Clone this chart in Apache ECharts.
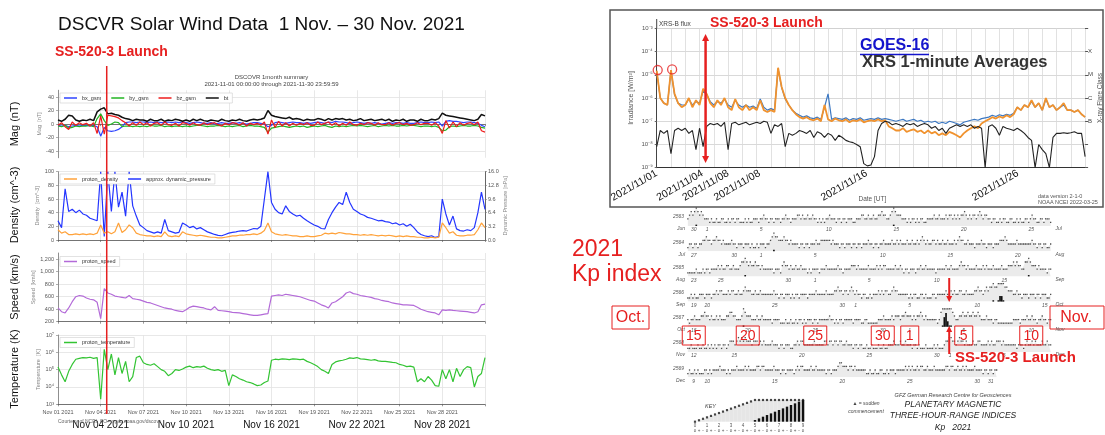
<!DOCTYPE html>
<html>
<head>
<meta charset="utf-8">
<script src="https://cdn.jsdelivr.net/npm/echarts@6/dist/echarts.min.js"></script>
<style>
html,body{margin:0;padding:0;background:#fff;}
#chart{width:1105px;height:435px;}
</style>
</head>
<body>
<div id="chart"></div>
<script>
const FONT = '"Liberation Sans", Arial, Helvetica, sans-serif';
const font = (size, weight, style) => `${style || 'normal'} ${weight || 'normal'} ${size}px ${FONT}`;
const RED = '#e62020';

// ---------- DSCOVR 1-month summary, Nov 2021 (6-hour samples, day 0 = Nov 01 00:00 UT) ----------
const dayStep = 0.25;
const btTotal = [6,4,7,13, 12,6,4,6, 5,7,5,18, 22,24,15,16, 14,13,10,8, 7,5,7,6, 6,4,7,5, 5,7,4,6, 5,7,6,4, 6,4,7,5,
  7,5,4,6, 5,4,7,5, 4,6,5,7, 5,4,6,7, 6,7,9,20, 13,11,10,9, 8,10,7,8, 7,5,7,6, 6,8,7,5, 8,6,8,7,
  8,6,7,5, 6,8,5,6, 7,5,6,7, 5,7,4,6, 5,7,4,6, 6,4,7,5, 5,7,6,8, 16,13,12,11, 10,9,8,7, 6,5,7,14, 12];
const bxGsm = [-2,-3,-2,-4, -3,-2,-3,-2, -2,-3,-2,-4, -18,-5,-10,-11, -10,-8,-4,2, 3,3,2,3, 3,2,3,2, 3,2,2,3, 2,3,2,3, 2,1,2,3,
  2,1,1,2, 0,1,2,1, 1,2,1,2, 1,0,1,2, 2,1,0,-4, -2,2,3,2, 1,2,3,2, 2,1,2,1, 2,3,2,1, 3,2,4,3,
  3,2,1,2, 3,2,1,2, 1,2,1,0, 1,2,1,2, 2,1,2,1, 1,2,3,2, 2,3,2,3, -3,4,5,4, 4,3,2,3, 3,2,1,-2, -4];
const byGsm = [-3,-4,-2,-6, -5,-3,-4,-3, -3,-2,-4,8, 15,5,-2,0, 3,2,-4,-3, -3,-4,-3,-4, -3,-4,-2,-3, -3,-2,-4,-3, -4,-3,-3,-4, -3,-4,-3,-2,
  -2,-3,-4,-3, -3,-2,-3,-4, -3,-4,-3,-2, -4,-3,-2,-3, -3,-4,-5,-12, -6,-5,-4,-3, -4,-5,-4,-3, -4,-3,-5,-4, -3,-4,-3,-2, -4,-5,-3,-4,
  -3,-4,-3,-2, -3,-2,-3,-4, -3,-2,-4,-3, -2,-3,-2,-3, -3,-2,-3,-2, -2,-3,-4,-3, -3,-4,-3,-5, -10,-9,-4,-3, -4,-3,-2,-3, -3,-2,-3,-5, -6];
const bzGsm = [-2,2,-4,-8, 3,-2,2,-1, 1,-3,2,-14, 12,-15,13,12, 11,9,5,2, -3,2,-2,3, -1,2,-3,1, 2,-2,3,-1, -2,1,-3,2, 1,-2,2,-1,
  -2,2,-1,1, 2,-1,-3,1, -1,2,1,-2, 2,-3,1,-1, 1,-2,3,-15, 6,-5,4,-3, 2,-3,1,-2, 1,-1,2,-2, -2,3,-1,1, 3,-2,2,-3,
  1,-2,3,-1, -2,1,-1,2, 1,-2,2,-1, -1,2,-2,1, 2,-1,1,-2, -1,2,-1,1, 1,-2,2,-3, -14,5,-6,3, -4,2,-2,1, 2,-1,3,-10, -12];
const protonDensity = [15,10,12,8, 8,9,8,9, 8,9,8,10, 22,10,12,9, 12,25,11,15, 22,18,10,8, 7,6,6,5, 6,5,12,6, 5,6,5,12, 9,8,7,6,
  7,6,5,4, 4,3,3,4, 5,6,6,7, 7,8,8,9, 8,10,14,25, 12,9,8,7, 8,7,6,6, 5,5,6,5, 5,6,7,10, 9,10,9,11,
  10,9,9,8, 8,7,8,7, 8,7,6,7, 6,7,6,5, 6,5,6,5, 5,4,4,3, 3,4,3,4, 25,18,10,12, 7,6,6,7, 7,8,15,25, 18];
const dynPressure = [4.5,2.9,12.0,6.7, 7.2,6.4,7.0,6.1, 5.8,5.1,4.8,4.5, 16.0,0.8,16.0,6.7, 16.0,7.7,11.2,5.6, 16.0,8.0,5.6,3.5,
  2.9,2.2,1.9,1.6, 1.9,1.6,4.8,2.2, 1.9,1.6,1.8,4.0, 3.5,2.9,3.2,2.6, 2.9,2.4,1.9,1.6, 1.3,1.1,1.0,1.3,
  1.6,1.8,1.9,2.1, 2.2,2.1,2.4,2.7, 2.6,3.2,9.6,16.0, 8.8,7.2,6.4,6.1, 8.0,6.7,6.1,5.6, 5.8,5.1,4.5,4.0,
  3.5,3.2,2.7,2.6, 4.8,6.4,7.7,8.8, 8.3,11.2,8.8,7.2, 6.7,6.1,5.8,5.3, 5.1,4.8,4.5,4.6, 4.3,4.2,3.8,4.0,
  3.5,3.8,3.2,3.7, 2.9,1.9,1.3,1.0, 0.8,1.0,0.6,0.8, 9.6,6.1,3.5,5.6, 2.6,2.2,2.1,2.4, 2.2,2.9,6.4,11.2, 7.2];
const protonSpeed = [420,360,340,420, 520,600,620,610, 580,560,550,510, 250,730,660,640, 610,600,590,580, 620,570,560,550,
  530,510,500,480, 460,440,420,410, 400,380,370,360, 390,430,450,440, 430,420,400,390, 440,380,375,370,
  360,350,345,340, 330,320,310,300, 300,310,320,330, 610,620,630,620, 640,630,620,610, 600,580,560,540,
  530,500,470,450, 420,500,520,560, 600,660,680,650, 640,620,610,600, 590,570,560,540, 530,520,500,490,
  480,470,470,465, 460,430,400,380, 360,350,340,310, 390,380,390,380, 375,370,365,360, 350,340,360,470, 480];
const protonTemp = [140000,50000,20000,80000, 200000,400000,450000,500000, 480000,520000,450000,500000,
  2000,1500000,100000,800000, 50000,500000,60000,300000, 20000,40000,500000,600000,
  250000,200000,180000,220000, 150000,100000,80000,45000, 60000,100000,90000,110000,
  140000,160000,130000,150000, 140000,160000,120000,100000, 90000,100000,80000,90000,
  12000,50000,40000,30000, 25000,20000,18000,15000, 12000,13000,18000,22000,
  350000,400000,380000,420000, 400000,380000,420000,400000, 380000,400000,300000,250000,
  200000,150000,100000,80000, 60000,200000,280000,320000, 350000,400000,480000,450000,
  500000,420000,400000,380000, 350000,380000,320000,300000, 300000,280000,260000,250000,
  200000,180000,150000,160000, 140000,20000,30000,20000, 40000,25000,12000,11000,
  100000,30000,100000,20000, 120000,40000,100000,150000, 130000,10000,40000,60000, 500000];
const dscovrDateTicks = [0,3,6,9,12,15,18,21,24,27];
const dscovrBigTicks = [3,9,15,21,27];
const launchDay = 3.423; // 2021-11-04 10:09 UT

// ---------- GOES-16 XRS 1-minute averages (6-hour samples, W/m^2) ----------
const xrsBPrimary = [1.5e-5,1e-6,6e-7,5e-7, 1.6e-5,1.5e-6,6e-7,4e-7, 5e-7,1e-6,4e-7,8e-7, 5e-7,2.5e-6,1.5e-6,6e-7,
  4e-7,8e-7,5e-7,1e-6, 4e-7,3e-7,9e-7,4e-7, 3e-7,5e-7,3e-7,4e-7, 3e-7,8e-7,3e-7,2.5e-7,
  3e-7,2.5e-7,2e-5,3e-6, 1e-6,5e-7,3e-7,2e-7, 1.5e-7,1.3e-7,1.5e-7,1.2e-7, 1.1e-7,1.3e-7,1e-7,5e-7,
  1.2e-7,1e-7,1.3e-7,1.1e-7, 1e-7,1.2e-7,9e-8,1.1e-7, 1e-7,1.2e-7,9e-8,1e-7, 1.1e-7,1e-7,1.2e-7,1e-7,
  1.1e-7,6e-8,5e-8,4e-8, 4e-8,5e-8,3.5e-8,4e-8, 4.5e-8,3.5e-8,4e-8,3e-8, 4e-8,3e-8,3.5e-8,2.5e-8,
  3e-8,2.5e-8,3.5e-8,3e-8, 2.5e-8,2e-8,3e-8,4e-8, 5e-8,6e-8,5e-8,8e-8, 1e-7,1.2e-7,1.5e-7,1.3e-7,
  1.6e-7,1.4e-7,1.8e-7,1.5e-7, 2e-7,4e-7,3e-7,5e-7, 4e-7,8e-7,4e-7,6e-7, 3e-7,1e-6,4e-7,5e-7,
  3e-7,4e-7,6e-7,3e-7, 3e-7,2.5e-7,3e-7,2e-7, 1.5e-7];
const xrsBSecondary = [1.4e-5,1e-6,6e-7,5e-7, 1.5e-5,1.4e-6,6e-7,5e-7, 5e-7,9e-7,5e-7,7e-7, 6e-7,2e-6,1.4e-6,7e-7,
  5e-7,7e-7,6e-7,9e-7, 5e-7,4e-7,8e-7,5e-7, 4e-7,5e-7,4e-7,4.5e-7, 3.5e-7,9e-7,4e-7,3e-7,
  3.5e-7,3e-7,1.8e-5,2.8e-6, 9e-7,5e-7,3e-7,2.2e-7, 1.8e-7,1.5e-7,1.7e-7,1.4e-7, 1.3e-7,1.5e-7,1.2e-7,4e-7,
  1.5e-6,1.2e-7,1.4e-7,1.3e-7, 1.2e-7,1.4e-7,1.1e-7,1.3e-7, 1.2e-7,1.4e-7,1.1e-7,1.2e-7, 1.3e-7,1.2e-7,1.4e-7,1.2e-7,
  1.3e-7,1.2e-7,1.1e-7,1e-7, 1.1e-7,1.2e-7,1e-7,1.1e-7, 1.2e-7,1e-7,1.1e-7,9e-8, 1e-7,9e-8,1e-7,8e-8,
  9e-8,8e-8,1e-7,9e-8, 8e-8,7e-8,9e-8,1e-7, 1.1e-7,1.2e-7,1.1e-7,1.3e-7, 1.4e-7,1.5e-7,1.8e-7,1.6e-7,
  1.9e-7,1.7e-7,2e-7,1.8e-7, 2.2e-7,4e-7,3e-7,5e-7, 4e-7,7e-7,4e-7,6e-7, 3e-7,9e-7,4e-7,5e-7,
  3e-7,4e-7,5e-7,3e-7, 3e-7,2.5e-7,3e-7,2e-7, 1.5e-7];
const xrsA = [8e-9,4e-8,3e-8,4e-8, 4e-9,4e-8,5e-8,4e-8, 5e-8,3e-8,4e-8,6e-9, 5e-8,8e-9,6e-8,8e-8,
  7e-8,8e-8,6e-8,9e-8, 6e-9,8e-8,9e-8,7e-8, 8e-8,9e-8,7e-8,8e-8, 9e-8,8e-8,1e-7,9e-8,
  3e-8,7e-8,6e-8,8e-8, 8e-9,3e-8,2.5e-8,3e-8, 4e-8,3.5e-8,3e-8,4e-8, 2e-8,3.5e-8,3e-8,2e-8,
  3e-8,2.5e-8,1.5e-8,2.5e-8, 2e-8,1.5e-8,1.3e-8,1.2e-8, 1e-8,8e-9,1.5e-9,1.2e-9, 1.3e-9,3e-9,4e-8,8e-8,
  1e-7,9e-8,7e-8,8e-8, 7e-8,6e-8,8e-8,7e-8, 8e-8,6e-8,7e-8,8e-8, 7e-8,5e-8,6e-8,4e-8,
  5e-8,3e-8,5e-8,6e-8, 7e-8,6e-8,7e-8,6e-8, 7e-8,5e-8,6e-8,5e-8, 1e-9,6e-8,7e-8,5e-8,
  2.5e-8,6e-8,5e-8,4.5e-8, 4e-8,5e-8,4e-8,3e-8, 2e-8,1.5e-8,1e-9,1e-8, 6e-9,4e-9,1e-9,2e-8,
  3e-8,3e-8,3.2e-8,3e-8, 3.2e-8,3.5e-8,3e-8,3e-8, 3e-9];
const flarePeaks = [[0.07, 1.6e-5], [1.08, 1.7e-5]];
const goesDateTicks = [0, 3.2, 5.0, 7.2, 14.7, 25.3];
const goesDateLabels = ['2021/11/01', '2021/11/04', '2021/11/08', '2021/11/08', '2021/11/16', '2021/11/26'];
const flareClassByExp = { '-4': 'X', '-5': 'M', '-6': 'C', '-7': 'B' };

// ---------- Kp 2021, Bartels rotations 2563-2569 (eight 3-hour values per day) ----------
const kp2563 = [2,3,4,3,4,5,4,3, 4,3,2,2,2,1,2,1, 1,2,1,1,2,2,1,1,
  2,1,2,2,1,2,2,1, 1,1,2,1,2,1,1,2, 2,2,1,2,2,3,2,2,
  1,2,2,1,2,2,2,1, 2,2,3,2,2,1,2,2, 2,3,3,2,3,2,2,3,
  2,2,3,2,2,1,2,1, 2,1,2,2,3,2,2,2, 1,2,2,1,2,2,1,2,
  2,2,1,1,2,2,2,3, 3,2,2,3,2,2,3,2, 2,3,3,4,3,3,2,2,
  3,4,5,4,3,3,3,2, 2,2,1,2,1,2,2,1, 2,1,2,2,1,1,2,2,
  2,2,3,2,2,3,2,2, 2,3,2,3,3,2,3,2, 3,2,3,3,4,3,2,3,
  2,3,3,2,3,4,3,2, 3,3,2,2,1,2,2,1, 1,2,1,2,2,1,1,2,
  2,1,1,2,1,2,1,1, 2,2,1,2,3,2,2,1, 1,2,2,1,2,2,2,1];
const kp2564 = [1,2,2,1,2,2,1,2, 2,3,3,4,3,3,2,3, 3,4,3,3,2,3,2,2,
  2,2,3,2,2,1,2,2, 2,1,2,2,2,1,2,1, 1,2,1,2,2,2,1,2,
  2,3,4,5,4,4,3,3, 3,4,3,3,2,3,2,2, 2,2,1,2,2,1,2,2,
  1,2,2,2,3,2,2,3, 3,3,3,3,3,2,3,2, 2,2,1,2,2,1,2,2,
  2,1,2,2,1,2,2,1, 2,2,2,3,2,2,1,2, 2,1,2,2,3,2,2,2,
  2,3,2,2,3,2,3,2, 2,2,3,2,2,3,2,2, 3,2,3,4,3,2,3,2,
  2,3,3,2,3,2,2,3, 2,2,3,2,2,2,3,2, 3,4,3,3,2,2,3,2,
  2,2,1,2,2,2,3,2, 2,1,2,2,2,1,2,2, 2,3,3,3,4,3,2,2,
  2,2,2,3,2,2,2,2, 2,2,2,2,3,2,2,1, 2,2,1,2,2,1,1,2];
const kp2565 = [1,1,1,1,1,2,1,1, 1,2,1,2,2,1,2,2, 2,2,3,2,3,2,2,3,
  3,2,2,3,2,2,2,3, 4,4,5,4,3,4,3,3, 4,3,3,2,3,2,2,2,
  2,2,2,1,2,2,2,1, 3,4,3,3,2,3,2,2, 3,2,2,3,2,2,2,1,
  2,1,2,2,2,2,1,2, 2,2,3,2,2,2,2,2, 2,3,2,2,1,2,2,2,
  2,3,3,3,2,3,2,2, 2,2,2,3,2,2,2,2, 3,2,3,2,3,3,2,2,
  2,2,2,3,2,2,3,2, 1,2,2,1,2,2,2,1, 2,2,3,2,2,3,2,2,
  2,2,2,1,2,2,2,2, 2,3,2,2,3,2,2,2, 2,3,4,3,3,2,3,2,
  2,2,2,3,2,2,2,3, 2,3,2,2,2,3,2,2, 2,2,3,2,2,2,3,3,
  3,4,3,4,3,3,2,2, 4,4,5,4,3,3,3,2, 3,2,2,2,2,1,2,2];
const kp2566 = [1,1,2,1,2,1,1,2, 2,2,1,2,2,2,1,2, 2,3,2,3,3,2,2,2,
  3,2,3,3,2,2,3,2, 2,3,4,3,3,3,2,2, 3,2,2,3,2,2,2,2,
  2,2,2,3,2,2,1,2, 2,1,2,2,2,1,2,1, 2,2,1,2,2,2,2,1,
  2,2,2,2,3,2,2,2, 2,2,3,2,2,2,2,3, 3,4,3,3,2,3,3,2,
  3,4,3,2,3,2,2,1, 2,2,1,1,2,1,2,2, 2,3,2,3,2,3,3,2,
  2,3,4,3,3,2,2,2, 2,2,2,1,2,1,2,2, 1,1,2,2,1,2,1,1,
  1,2,2,1,2,2,2,2, 2,3,2,2,3,2,3,2, 2,3,3,2,2,3,2,2,
  2,2,3,3,4,3,3,2, 3,4,3,4,4,5,4,4, 5,6,6,5,4,4,3,3,
  3,2,2,3,2,2,1,2, 2,2,1,2,2,2,1,2, 2,1,2,2,2,1,1,2];
const kp2567 = [2,1,2,2,3,2,2,2, 3,3,4,3,3,2,3,2, 2,3,2,3,2,2,2,3,
  3,4,4,3,3,2,2,2, 3,5,4,3,3,3,2,2, 2,3,2,2,3,2,2,2,
  2,2,1,2,2,2,2,1, 1,1,2,1,1,2,1,1, 2,1,2,2,1,2,1,2,
  2,2,1,2,2,1,2,2, 2,2,2,2,3,2,2,1, 2,1,2,2,1,2,2,2,
  2,2,1,2,2,2,2,1, 1,2,2,1,1,1,1,1, 1,2,2,2,3,2,2,2,
  2,3,2,3,3,3,2,3, 3,4,3,3,3,2,3,2, 3,3,4,3,2,3,2,2,
  2,2,2,2,1,2,4,5, 7,8,6,5,5,4,3,2, 2,3,3,4,3,3,4,3,
  3,4,3,3,4,3,2,2, 2,3,2,2,2,1,2,2, 1,1,1,1,1,1,1,1,
  1,2,2,2,2,1,2,2, 2,3,2,2,3,2,2,1, 2,2,3,2,2,1,2,2];
const kp2568 = [1,1,2,1,1,1,2,1, 1,2,1,1,2,1,2,1, 2,1,2,2,1,2,2,1,
  2,3,3,3,2,3,4,3, 4,3,4,3,3,3,2,3, 3,3,2,3,2,3,2,2,
  2,2,3,2,2,2,1,2, 2,1,2,2,2,1,1,2, 2,3,2,3,3,2,2,2,
  2,2,2,3,2,2,2,2, 2,3,3,2,3,3,2,3, 3,2,3,3,2,2,3,2,
  2,2,1,2,2,1,2,2, 1,1,2,1,1,2,1,1, 1,2,1,1,2,1,1,2,
  2,2,3,2,2,2,3,2, 2,3,2,2,2,1,2,2, 1,2,1,1,1,2,1,1,
  1,1,2,1,2,1,1,1, 2,3,3,4,4,3,3,2, 3,4,3,3,2,3,2,2,
  2,3,2,2,3,3,2,2, 2,2,3,2,3,2,2,3, 3,3,2,3,2,2,2,2,
  2,2,2,1,2,2,2,1, 2,3,2,2,3,2,3,2, 2,2,3,2,2,3,2,2];
const kp2569 = [1,2,1,1,2,1,2,1, 1,1,2,2,1,2,1,2, 2,2,2,3,2,2,2,1,
  2,1,2,2,2,3,2,2, 2,2,3,2,3,2,2,2, 2,3,3,2,3,3,2,2,
  2,2,2,3,2,2,2,1, 2,2,1,2,2,2,2,1, 2,3,2,3,3,2,2,2,
  2,3,2,2,3,2,2,2, 2,2,1,2,2,1,2,2, 2,3,4,4,3,3,3,2,
  3,3,2,3,2,2,2,2, 2,2,1,1,2,1,1,2, 1,1,2,2,1,1,2,1,
  2,2,2,1,2,2,2,2, 2,3,2,3,2,3,2,2, 3,2,3,3,2,2,3,2,
  2,2,3,2,2,2,2,2, 2,3,3,2,3,3,2,2, 3,2,2,3,2,3,2,2,
  2,2,3,2,2,2,2,1, 2,2,1,2,2,1,2,2];
const kpRows = [
  { rotation: 2563, start: [2021, 5, 30], values: kp2563 },
  { rotation: 2564, start: [2021, 6, 27], values: kp2564 },
  { rotation: 2565, start: [2021, 7, 23], values: kp2565 },
  { rotation: 2566, start: [2021, 8, 19], values: kp2566 },
  { rotation: 2567, start: [2021, 9, 16], values: kp2567 },
  { rotation: 2568, start: [2021, 10, 12], values: kp2568 },
  { rotation: 2569, start: [2021, 11, 9], values: kp2569 }
];
const kpKey = [0,0.33,0.67,1,1.33,1.67,2,2.33,2.67,3,3.33,3.67,4,4.33,4.67,5,5.33,5.67,6,6.33,6.67,7,7.33,7.67,8,8.33,8.67,9];
// day index (in rotation 2567) marked by the boxed numbers
const kpBoxLabels = [['15', 0], ['20', 4], ['25', 9], ['30', 14], ['1', 16], ['5', 20], ['10', 25]];
const launchRowIndex = 4;
const MONTHS = ['Jan','Feb','Mar','Apr','May','Jun','Jul','Aug','Sep','Oct','Nov','Dec'];

// ---------- helpers ----------
const asDays = arr => arr.map((v, i) => [i * dayStep, v]);
const SUP = { '-': '⁻', '0': '⁰', '1': '¹', '2': '²', '3': '³', '4': '⁴', '5': '⁵', '6': '⁶', '7': '⁷', '8': '⁸', '9': '⁹' };
const pow10Label = v => '10' + String(Math.round(Math.log10(v))).split('').map(c => SUP[c]).join('');
const pad2 = n => (n < 10 ? '0' : '') + n;
const novLabel = d => 'Nov ' + pad2(Math.round(d) + 1) + ' 2021';

const gridLine = { show: true, lineStyle: { color: '#e2e2e2', width: 0.8 } };
const smallLabel = { fontSize: 5.5, color: '#555', fontFamily: FONT };

// ---------- layout ----------
const dsLeft = 58, dsWidth = 427;
const dsPanels = [
  { top: 90.25, height: 67.5 },
  { top: 171.7, height: 68.3 },
  { top: 253.0, height: 68.7 },
  { top: 335.0, height: 69.3 }
];
const goesGrid = { left: 656.7, top: 28.3, width: 431.3, height: 139.4 };
const rowLeft = 687, rowDayW = 13.5, rowH = 18, rowBase0 = 226, rowPitch = 25.2;

const grids = [];
const xAxes = [];
const yAxes = [];
const series = [];

dsPanels.forEach((p, i) => {
  grids.push({ left: dsLeft, top: p.top, width: dsWidth, height: p.height });
  xAxes.push({
    gridIndex: i, type: 'value', min: 0, max: 30, interval: 3, position: 'bottom',
    axisLine: { lineStyle: { color: '#555', width: 0.8 } },
    axisTick: { length: 2, lineStyle: { color: '#555', width: 0.6 } },
    axisLabel: i === 3 ? Object.assign({ customValues: dscovrDateTicks, formatter: novLabel, margin: 5 }, smallLabel) : { show: false },
    splitLine: gridLine
  });
});
// larger date row under the bottom panel
xAxes.push({
  gridIndex: 3, type: 'value', min: 0, max: 30, position: 'bottom',
  axisLine: { show: false }, axisTick: { show: false }, splitLine: { show: false },
  axisLabel: { customValues: dscovrBigTicks, formatter: novLabel, margin: 16, fontSize: 10, color: '#111', fontFamily: FONT }
});

const yName = (name, gap) => ({ name, nameLocation: 'middle', nameGap: gap || 16, nameTextStyle: { fontSize: 5.5, color: '#888', fontFamily: FONT } });
const yBase = { axisLine: { show: true, lineStyle: { color: '#777', width: 0.8 } }, axisTick: { show: true, length: 2, lineStyle: { color: '#777', width: 0.6 } } };

// 0: magnetic field
yAxes.push(Object.assign({}, yBase, yName('Mag  [nT]', 16), {
  gridIndex: 0, type: 'value', min: -50, max: 50,
  axisTick: { show: true, length: 2, customValues: [-40, -20, 0, 20, 40], lineStyle: { color: '#777', width: 0.6 } },
  axisLabel: Object.assign({ customValues: [-40, -20, 0, 20, 40], margin: 4 }, smallLabel),
  splitLine: gridLine
}));
// 1: density (left) ; 2: dynamic pressure (right)
yAxes.push(Object.assign({}, yBase, yName('Density  [cm^-3]', 16), {
  gridIndex: 1, type: 'value', min: 0, max: 100, interval: 20,
  axisLabel: Object.assign({ margin: 4 }, smallLabel), splitLine: gridLine
}));
yAxes.push(Object.assign({}, yBase, yName('Dynamic Pressure [nPa]', 14), {
  gridIndex: 1, type: 'value', min: 0, max: 16, interval: 3.2, position: 'right',
  axisLine: { show: true, lineStyle: { color: '#444', width: 0.8 } },
  axisLabel: Object.assign({ margin: 3, formatter: v => v.toFixed(1) }, smallLabel), splitLine: { show: false }
}));
// 3: speed
yAxes.push(Object.assign({}, yBase, yName('Speed  [km/s]', 19), {
  gridIndex: 2, type: 'value', min: 200, max: 1300,
  axisTick: { show: true, length: 2, customValues: [200, 400, 600, 800, 1000, 1200], lineStyle: { color: '#777', width: 0.6 } },
  axisLabel: Object.assign({ customValues: [200, 400, 600, 800, 1000, 1200], margin: 4 }, smallLabel),
  splitLine: gridLine
}));
// 4: temperature (log)
yAxes.push(Object.assign({}, yBase, yName('Temperature  [K]', 17), {
  gridIndex: 3, type: 'log', logBase: 10, min: 1e3, max: 1e7,
  axisLabel: Object.assign({ margin: 4, formatter: pow10Label }, smallLabel),
  splitLine: gridLine, minorTick: { show: false }
}));

// ----- GOES panel -----
grids.push(goesGrid);
xAxes.push({
  gridIndex: 4, type: 'value', min: 0, max: 30, interval: 1, position: 'bottom',
  axisLine: { lineStyle: { color: '#333', width: 1 } },
  axisTick: { show: false },
  axisLabel: {
    customValues: goesDateTicks, rotate: 30, margin: 5, fontSize: 10.5, color: '#111', fontFamily: FONT,
    formatter: v => { const k = goesDateTicks.findIndex(t => Math.abs(t - v) < 1e-6); return k >= 0 ? goesDateLabels[k] : ''; }
  },
  splitLine: { show: true, lineStyle: { color: '#d9d9d9', width: 0.8 } }
});
yAxes.push({
  gridIndex: 4, type: 'log', logBase: 10, min: 1e-9, max: 1e-3,
  axisLine: { show: true, lineStyle: { color: '#444', width: 1 } },
  axisTick: { show: true, length: 2, lineStyle: { color: '#666' } },
  axisLabel: { formatter: pow10Label, fontSize: 6, color: '#555', margin: 4, fontFamily: FONT },
  splitLine: { show: true, lineStyle: { color: '#cfcfcf', width: 0.8 } },
  name: 'Irradiance [W/m²]', nameLocation: 'middle', nameGap: 22,
  nameTextStyle: { fontSize: 7, color: '#555', fontFamily: FONT }
});
yAxes.push({
  gridIndex: 4, type: 'log', logBase: 10, min: 1e-9, max: 1e-3, position: 'right',
  axisLine: { show: false },
  axisTick: { show: true, length: 3, inside: false, lineStyle: { color: '#555' } },
  axisLabel: { formatter: v => flareClassByExp[String(Math.round(Math.log10(v)))] || '', fontSize: 6, color: '#444', margin: 3, fontFamily: FONT },
  splitLine: { show: false },
  name: 'X-ray Flare Class', nameLocation: 'middle', nameGap: 11,
  nameTextStyle: { fontSize: 6.5, color: '#555', fontFamily: FONT }
});

// ----- Kp rows -----
const kpGridStart = grids.length;
const kpXAxisStart = xAxes.length;
const kpYAxisStart = yAxes.length;
kpRows.forEach((row, r) => {
  const base = rowBase0 + r * rowPitch;
  grids.push({ left: rowLeft, top: base - rowH, width: rowDayW * 27, height: rowH });
  const nDays = row.values.length / 8;
  const startMs = Date.UTC(row.start[0], row.start[1], row.start[2]);
  const dom = j => new Date(startMs + j * 86400000).getUTCDate();
  const ticks = [];
  for (let j = 0; j < nDays; j++) {
    const d = dom(j);
    if (j === 0 || [1, 5, 10, 15, 20, 25, 30].includes(d) || (r === kpRows.length - 1 && j === nDays - 1)) ticks.push(j + 0.5);
  }
  xAxes.push({
    gridIndex: kpGridStart + r, type: 'value', min: 0, max: 27,
    axisLine: { show: false }, axisTick: { show: false }, splitLine: { show: false },
    axisLabel: { customValues: ticks, formatter: v => String(dom(Math.floor(v))), fontSize: 5, fontStyle: 'italic', color: '#555', margin: 1.5, fontFamily: FONT }
  });
  yAxes.push({ gridIndex: kpGridStart + r, type: 'value', min: 0, max: 5, show: false });
  const dots = [], bars = [];
  row.values.forEach((kp, i) => {
    const t = (i + 0.5) / 8;
    dots.push([t, Math.min(kp, 5)]);
    bars.push([t, kp >= 5 ? (kp - 4.67) / 4.33 * 5 : '-']);
  });
  const ax = { xAxisIndex: kpXAxisStart + r, yAxisIndex: kpYAxisStart + r };
  series.push(Object.assign({ type: 'line', data: dots, showSymbol: false, silent: true, lineStyle: { width: 0 }, areaStyle: { color: '#ebebeb', opacity: 1 }, z: 1 }, ax));
  series.push(Object.assign({ type: 'bar', data: bars, barWidth: 1.7, itemStyle: { color: '#111' }, silent: true, z: 2 }, ax));
  series.push(Object.assign({ type: 'scatter', data: dots, symbol: 'rect', symbolSize: 1.3, itemStyle: { color: '#222' }, silent: true, z: 3 }, ax));
});

// ----- Kp key -----
const keyGridIndex = grids.length;
grids.push({ left: 693, top: 400, width: 112, height: 21.7 });
const keyX = xAxes.length, keyY = yAxes.length;
xAxes.push({
  gridIndex: keyGridIndex, type: 'category', data: kpKey.map((v, i) => i),
  axisLine: { show: false }, axisTick: { show: false }, splitLine: { show: false },
  axisLabel: {
    interval: 0, margin: 2, fontSize: 4.5, color: '#555', lineHeight: 4.5, fontFamily: FONT,
    formatter: v => { const i = +v; return (i % 3 === 0 ? String(i / 3) : ' ') + '\n' + ['o', '+', '-'][i % 3]; }
  }
});
yAxes.push({ gridIndex: keyGridIndex, type: 'value', min: 0, max: 5, show: false });
series.push({ type: 'bar', xAxisIndex: keyX, yAxisIndex: keyY, data: kpKey.map(v => Math.min(v, 5)), barWidth: 4, itemStyle: { color: '#e6e6e6' }, barGap: '-100%', silent: true, z: 1 });
series.push({ type: 'bar', xAxisIndex: keyX, yAxisIndex: keyY, data: kpKey.map(v => v >= 5 ? (v - 4.67) / 4.33 * 5 : '-'), barWidth: 2.4, itemStyle: { color: '#111' }, barGap: '-100%', silent: true, z: 2 });
series.push({ type: 'scatter', xAxisIndex: keyX, yAxisIndex: keyY, data: kpKey.map(v => Math.min(v, 5)), symbol: 'rect', symbolSize: 2.2, itemStyle: { color: '#1a1a1a' }, silent: true, z: 3 });

// ----- DSCOVR series -----
const ln = (name, data, color, xi, yi, w) => ({
  name, type: 'line', data: asDays(data), xAxisIndex: xi, yAxisIndex: yi, showSymbol: false, silent: true,
  lineStyle: { color, width: w || 1 }, itemStyle: { color }
});
series.push(ln('bx_gsm', bxGsm, '#2f44ff', 0, 0, 1.2));
series.push(ln('by_gsm', byGsm, '#22b522', 0, 0, 1.2));
series.push(ln('bt', btTotal, '#111111', 0, 0, 1.5));
series.push(ln('bz_gsm', bzGsm, '#ee1c1c', 0, 0, 1.2));
series.push(ln('approx. dynamic_pressure', dynPressure, '#2436ff', 1, 2, 1.2));
series.push(ln('proton_density', protonDensity, '#ffa23a', 1, 1, 1.2));
series.push(ln('proton_speed', protonSpeed, '#b36ad8', 2, 3, 1.2));
series.push(ln('proton_temperature', protonTemp, '#33c433', 3, 4, 1.2));

// ----- GOES series -----
const goesX = 5, goesY = 5;
series.push(ln('xrsb_secondary', xrsBSecondary, '#3c78c2', goesX, goesY, 1.2));
series.push(ln('xrsb_primary', xrsBPrimary, '#f0922e', goesX, goesY, 1.8));
series.push(ln('xrsa', xrsA, '#222222', goesX, goesY, 1.1));
series.push({
  type: 'scatter', xAxisIndex: goesX, yAxisIndex: goesY, data: flarePeaks, symbol: 'circle', symbolSize: 9, silent: true, z: 5,
  itemStyle: { color: 'rgba(0,0,0,0)', borderColor: RED, borderWidth: 1.3 }
});

const legendBase = {
  orient: 'horizontal', icon: 'rect', itemWidth: 13, itemHeight: 1.5, itemGap: 10, padding: [2, 4],
  backgroundColor: '#fff', borderColor: '#cfcfcf', borderWidth: 0.6, selectedMode: false,
  textStyle: { fontSize: 5.5, color: '#333', fontFamily: FONT }
};
const legends = [
  Object.assign({}, legendBase, { data: ['bx_gsm', 'by_gsm', 'bz_gsm', 'bt'], left: 60, top: 93 }),
  Object.assign({}, legendBase, { data: ['proton_density', 'approx. dynamic_pressure'], left: 60, top: 174 }),
  Object.assign({}, legendBase, { data: ['proton_speed'], left: 60, top: 256.5 }),
  Object.assign({}, legendBase, { data: ['proton_temperature'], left: 60, top: 337.5 })
];

const chart = echarts.init(document.getElementById('chart'), null, { renderer: 'canvas' });
chart.setOption({
  animation: false,
  backgroundColor: '#fff',
  grid: grids, xAxis: xAxes, yAxis: yAxes, series, legend: legends
});

// ---------- annotations ----------
function txt(x, y, s, o) {
  o = o || {};
  const align = o.align || 'left', va = o.va || 'middle';
  return {
    type: 'text', x, y, rotation: o.rot || 0, silent: true, z: 100,
    style: { text: s, x: 0, y: 0, font: o.font, fill: o.fill || '#111', align, verticalAlign: va, textAlign: align, textVerticalAlign: va }
  };
}
const line = (x1, y1, x2, y2, color, w) => ({ type: 'line', silent: true, z: 100, shape: { x1, y1, x2, y2 }, style: { stroke: color, lineWidth: w || 1 } });
const rect = (x, y, w, h, color, lw) => ({ type: 'rect', silent: true, z: 100, shape: { x, y, width: w, height: h }, style: { fill: 'none', stroke: color, lineWidth: lw || 1 } });
const tri = (pts, color) => ({ type: 'polygon', silent: true, z: 100, shape: { points: pts }, style: { fill: color } });

const els = [];
// DSCOVR
els.push(txt(58, 24.5, 'DSCVR Solar Wind Data  1 Nov. – 30 Nov. 2021', { font: font(19) }));
els.push(txt(55, 52.5, 'SS-520-3 Launch', { font: font(14, 'bold'), fill: RED }));
els.push(txt(271.5, 77.7, 'DSCOVR 1month summary', { font: font(6), fill: '#444', align: 'center' }));
els.push(txt(271.5, 84.3, '2021-11-01 00:00:00 through 2021-11-30 23:59:59', { font: font(6), fill: '#444', align: 'center' }));
[['Mag (nT)', 124], ['Density (cm^-3)', 205], ['Speed (km/s)', 287], ['Temperature (K)', 369]].forEach(([s, y]) => {
  els.push(txt(15, y, s, { font: font(11), rot: Math.PI / 2, align: 'center' }));
});
els.push(txt(58, 421.5, 'Courtesy of NCEI, CO - ngdc.noaa.gov/dscovr', { font: font(5), fill: '#666' }));
const lx = chart.convertToPixel({ xAxisIndex: 0 }, launchDay);
els.push(line(lx, 66, lx, 414, RED, 1.5));

// GOES
els.push(rect(610, 10, 493, 197, '#555', 1.5));
els.push(line(goesGrid.left, 19, goesGrid.left, goesGrid.top, '#444', 1));
els.push(txt(659, 24, 'XRS-B flux', { font: font(6.5), fill: '#444' }));
els.push(txt(710, 23, 'SS-520-3 Launch', { font: font(14, 'bold'), fill: RED }));
const gx = chart.convertToPixel({ xAxisIndex: goesX }, launchDay);
els.push(line(gx, 40, gx, 157, RED, 2.5));
els.push(tri([[gx - 3.5, 41], [gx + 3.5, 41], [gx, 34]], RED));
els.push(tri([[gx - 3.5, 156], [gx + 3.5, 156], [gx, 163]], RED));
els.push(txt(860, 46, 'GOES-16', { font: font(16, 'bold'), fill: '#1414cc' }));
els.push(line(860, 54.5, 929, 54.5, '#1414cc', 1.5));
els.push(txt(862, 62, 'XRS 1-minute Averages', { font: font(16.5, 'bold'), fill: '#333' }));
els.push(txt(goesGrid.left + goesGrid.width / 2, 199, 'Date [UT]', { font: font(6.5), fill: '#555', align: 'center' }));
els.push(txt(1038, 196, 'data version 2-1-0', { font: font(5.5), fill: '#555' }));
els.push(txt(1038, 202.5, 'NOAA NCEI 2022-03-25', { font: font(5.5), fill: '#555' }));

// Kp
els.push(txt(572, 250, '2021', { font: font(23), fill: RED }));
els.push(txt(572, 275, 'Kp index', { font: font(23), fill: RED }));
els.push(rect(612, 306, 37, 23, RED, 1));
els.push(txt(630.5, 318, 'Oct.', { font: font(16), fill: RED, align: 'center' }));
els.push(rect(1050, 306, 54, 23, RED, 1));
els.push(txt(1076, 318, 'Nov.', { font: font(16), fill: RED, align: 'center' }));
kpRows.forEach((row, r) => {
  const base = rowBase0 + r * rowPitch;
  els.push(txt(684, base - 9, String(row.rotation), { font: font(5, 'normal', 'italic'), fill: '#555', align: 'right' }));
  els.push(txt(685, base + 3, MONTHS[row.start[1]], { font: font(5, 'normal', 'italic'), fill: '#555', align: 'right' }));
  if (row.values.length === 27 * 8) {
    const endMonth = new Date(Date.UTC(row.start[0], row.start[1], row.start[2] + 27)).getUTCMonth();
    els.push(txt(rowLeft + rowDayW * 27 + 4, base + 3, MONTHS[endMonth], { font: font(5, 'normal', 'italic'), fill: '#555' }));
  }
});
const launchRow = kpRows[launchRowIndex];
const launchRowDay = (Date.UTC(2021, 10, 4, 10, 9) - Date.UTC(launchRow.start[0], launchRow.start[1], launchRow.start[2])) / 86400000;
const kx = chart.convertToPixel({ xAxisIndex: kpXAxisStart + launchRowIndex }, launchRowDay);
kpBoxLabels.forEach(([s, day]) => {
  const cx = chart.convertToPixel({ xAxisIndex: kpXAxisStart + launchRowIndex }, day + 0.5);
  const w = s.length === 1 ? 18 : 23;
  els.push(rect(cx - w / 2, 326, w, 19, RED, 1));
  els.push(txt(cx, 336, s, { font: font(14), fill: RED, align: 'center' }));
});
els.push(line(kx, 354, kx, 331, RED, 2));
els.push(tri([[kx - 3, 332], [kx + 3, 332], [kx, 326]], RED));
els.push(line(kx, 278, kx, 297, RED, 2));
els.push(tri([[kx - 3, 296], [kx + 3, 296], [kx, 302]], RED));
els.push(txt(955, 358, 'SS-520-3 Launch', { font: font(15, 'bold'), fill: RED }));

els.push(txt(705, 406, 'KEY', { font: font(5.5, 'normal', 'italic'), fill: '#444' }));
els.push(txt(866, 404, '▲ = sudden', { font: font(5, 'normal', 'italic'), fill: '#444', align: 'center' }));
els.push(txt(866, 412, 'commencement', { font: font(5, 'normal', 'italic'), fill: '#444', align: 'center' }));
els.push(txt(953, 395, 'GFZ German Research Centre for Geosciences', { font: font(5.5, 'normal', 'italic'), fill: '#444', align: 'center' }));
els.push(txt(953, 404.5, 'PLANETARY MAGNETIC', { font: font(8.5, 'normal', 'italic'), fill: '#222', align: 'center' }));
els.push(txt(953, 416, 'THREE-HOUR-RANGE INDICES', { font: font(8.5, 'normal', 'italic'), fill: '#222', align: 'center' }));
els.push(txt(953, 428, 'Kp   2021', { font: font(8.5, 'normal', 'italic'), fill: '#222', align: 'center' }));

chart.setOption({ graphic: { elements: els } });
</script>
</body>
</html>
